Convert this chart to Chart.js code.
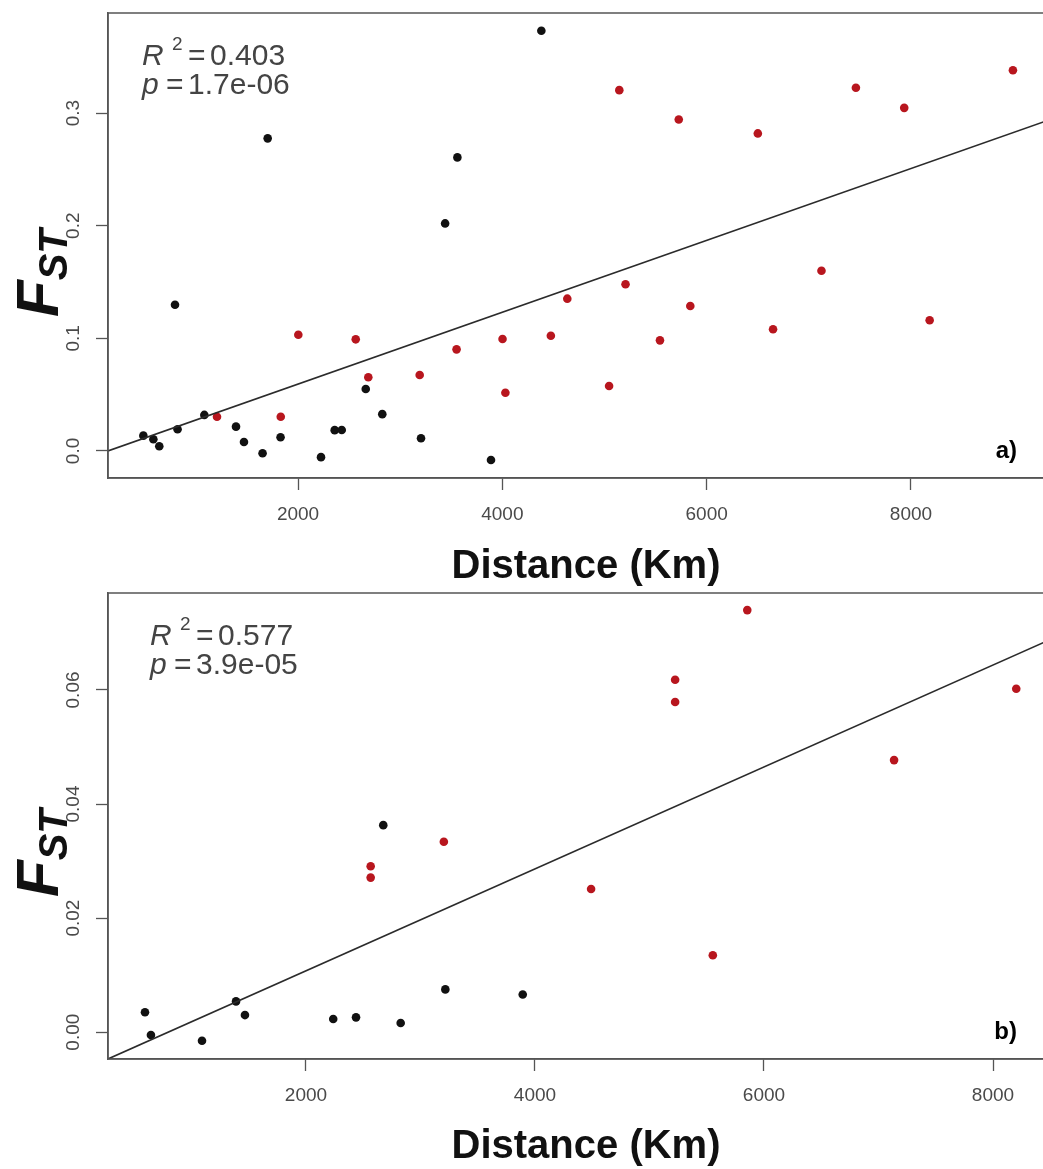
<!DOCTYPE html>
<html>
<head>
<meta charset="utf-8">
<script src="https://cdn.jsdelivr.net/npm/chart.js@4.4.1/dist/chart.umd.min.js"></script>
<style>
  html, body { margin: 0; padding: 0; background: #fff; }
  body { width: 1043px; height: 1169px; overflow: hidden; position: relative; }
  .panel { position: absolute; left: 0; }
  #panelA { top: 0; }
  #panelB { top: 580px; }
</style>
</head>
<body>
<div class="panel" id="panelA"><canvas id="chartA" width="1064" height="590"></canvas></div>
<div class="panel" id="panelB"><canvas id="chartB" width="1064" height="589"></canvas></div>
<script>
// a) all pairs: distance (km) vs Fst
const distBlackA = [486, 584, 642, 796, 821, 1083, 1393, 1471, 1653, 1703, 1829, 2225, 2359, 2428, 2663, 2825, 3204, 3440, 3560, 3889, 4382];
const fstBlackA = [0.0136, 0.0104, 0.0042, 0.1298, 0.0193, 0.0320, 0.0216, 0.0080, -0.0020, 0.2775, 0.0122, -0.0055, 0.0185, 0.0186, 0.0550, 0.0327, 0.0113, 0.2020, 0.2606, -0.0080, 0.3730];
const distRedA = [1207, 1831, 2003, 2565, 2688, 3191, 3552, 4002, 4030, 4475, 4636, 5045, 5145, 5206, 5543, 5727, 5840, 6501, 6650, 7124, 7461, 7934, 8183, 8998];
const fstRedA = [0.0304, 0.0304, 0.1032, 0.0991, 0.0654, 0.0674, 0.0902, 0.0994, 0.0517, 0.1023, 0.1352, 0.0577, 0.3203, 0.1480, 0.0982, 0.2943, 0.1287, 0.2819, 0.1080, 0.1600, 0.3224, 0.3046, 0.1160, 0.3380];
const fitDistA = [140, 9498];
const fitFstA = [0.0, 0.2985];
const statsA = ['0.403', '1.7e-06'];

// b) subset
const distBlackB = [594, 646, 1092, 1389, 1467, 2238, 2437, 2675, 2827, 3217, 3893];
const fstBlackB = [0.0035, -0.0005, -0.0015, 0.0054, 0.0030, 0.0023, 0.0026, 0.0363, 0.0016, 0.0075, 0.0066];
const distRedB = [2565, 2565, 3204, 4490, 5224, 5224, 5553, 5854, 7136, 8203];
const fstRedB = [0.0291, 0.0271, 0.0334, 0.0251, 0.0618, 0.0579, 0.0135, 0.0740, 0.0477, 0.0602];
const fitDistB = [271, 8620];
const fitFstB = [-0.0047, 0.0699];
const statsB = ['0.577', '3.9e-05'];

const distTicks = [2000, 4000, 6000, 8000];
const fstTicksA = [0, 0.1, 0.2, 0.3];
const fstTickLabelsA = ['0.0', '0.1', '0.2', '0.3'];
const fstTicksB = [0, 0.02, 0.04, 0.06];
const fstTickLabelsB = ['0.00', '0.02', '0.04', '0.06'];

const FONT = '"Liberation Sans", Arial, Helvetica, sans-serif';
const RED = '#b8161e';
const BLACK = '#111111';

function pts(xs, ys) {
  return xs.map((x, i) => ({ x: x, y: ys[i] }));
}

// frame, stats text, panel letter and the F_ST axis label
const panelText = {
  id: 'panelText',
  afterDraw(chart, args, opts) {
    const ctx = chart.ctx;
    const a = chart.chartArea;
    ctx.save();
    ctx.strokeStyle = '#555';
    ctx.lineWidth = 1.5;
    ctx.strokeRect(a.left, a.top, a.right - a.left, a.bottom - a.top);

    // R^2 / p
    ctx.fillStyle = '#444';
    ctx.textBaseline = 'alphabetic';
    let x0 = opts.statX;
    ctx.font = 'italic 30px ' + FONT;
    ctx.fillText('R', x0, 65);
    ctx.font = '19px ' + FONT;
    ctx.fillText('2', x0 + 30, 50);
    ctx.font = '30px ' + FONT;
    ctx.fillText('=', x0 + 46, 65);
    ctx.fillText(opts.stats[0], x0 + 68, 65);
    ctx.font = 'italic 30px ' + FONT;
    ctx.fillText('p', x0, 94);
    ctx.font = '30px ' + FONT;
    ctx.fillText('=', x0 + 24, 94);
    ctx.fillText(opts.stats[1], x0 + 46, 94);

    // panel tag
    ctx.fillStyle = '#000';
    ctx.font = 'bold 24px ' + FONT;
    ctx.textAlign = 'right';
    ctx.fillText(opts.tag, a.right - 47, a.bottom - 20);

    // F_ST
    ctx.textAlign = 'left';
    ctx.fillStyle = '#111';
    ctx.translate(58, 317);
    ctx.rotate(-Math.PI / 2);
    ctx.font = 'italic bold 60px ' + FONT;
    ctx.fillText('F', 0, 0);
    const w = ctx.measureText('F').width;
    ctx.font = 'italic bold 40px ' + FONT;
    ctx.fillText('ST', w, 9);
    ctx.restore();
  }
};

function makeChart(id, cfg) {
  return new Chart(document.getElementById(id), {
    type: 'scatter',
    data: {
      datasets: [
        {
          data: pts(cfg.fitX, cfg.fitY),
          showLine: true,
          borderColor: '#2b2b2b',
          borderWidth: 1.6,
          pointRadius: 0
        },
        {
          data: pts(cfg.blackX, cfg.blackY),
          pointRadius: 4.3,
          pointBorderWidth: 0,
          pointBackgroundColor: BLACK
        },
        {
          data: pts(cfg.redX, cfg.redY),
          pointRadius: 4.3,
          pointBorderWidth: 0,
          pointBackgroundColor: RED
        }
      ]
    },
    options: {
      responsive: false,
      animation: false,
      layout: { autoPadding: false, padding: { top: 13, left: 0, right: 0, bottom: 0 } },
      plugins: {
        legend: { display: false },
        tooltip: { enabled: false },
        panelText: { stats: cfg.stats, statX: cfg.statX, tag: cfg.tag }
      },
      scales: {
        x: {
          type: 'linear',
          min: cfg.fitX[0],
          max: cfg.fitX[1],
          afterBuildTicks: s => { s.ticks = distTicks.map(v => ({ value: v })); },
          afterFit: s => { s.height = cfg.xAxisHeight; s.paddingLeft = 0; s.paddingRight = 0; },
          grid: { display: true, drawOnChartArea: false, drawTicks: true, tickLength: 12, tickColor: '#555', tickWidth: 1.3 },
          border: { display: true, color: '#555', width: 1.5 },
          ticks: {
            color: '#4a4a4a',
            font: { family: FONT, size: 19 },
            padding: 13,
            minRotation: 0,
            maxRotation: 0,
            autoSkip: false,
            callback: v => String(v)
          },
          title: {
            display: true,
            text: 'Distance (Km)',
            color: '#111',
            font: { family: FONT, size: 40, weight: 'bold', lineHeight: 1 },
            padding: { top: 0, bottom: cfg.titlePad }
          }
        },
        y: {
          type: 'linear',
          min: cfg.yMin,
          max: cfg.yMax,
          afterBuildTicks: s => { s.ticks = cfg.yTicks.map(v => ({ value: v })); },
          afterFit: s => { s.width = 108; s.paddingTop = 0; s.paddingBottom = 0; },
          grid: { display: true, drawOnChartArea: false, drawTicks: true, tickLength: 12, tickColor: '#555', tickWidth: 1.3 },
          border: { display: true, color: '#555', width: 1.5 },
          ticks: {
            color: '#4a4a4a',
            font: { family: FONT, size: 19 },
            padding: cfg.yTickPad,
            minRotation: 90,
            maxRotation: 90,
            crossAlign: 'center',
            autoSkip: false,
            callback: v => cfg.yLabels[cfg.yTicks.indexOf(v)]
          }
        }
      }
    },
    plugins: [panelText]
  });
}

makeChart('chartA', {
  blackX: distBlackA, blackY: fstBlackA, redX: distRedA, redY: fstRedA,
  fitX: fitDistA, fitY: fitFstA, stats: statsA, statX: 142, tag: 'a)',
  yMin: -0.024, yMax: 0.3888, yTicks: fstTicksA, yLabels: fstTickLabelsA,
  xAxisHeight: 112, titlePad: 3.5, yTickPad: 9
});

makeChart('chartB', {
  blackX: distBlackB, blackY: fstBlackB, redX: distRedB, redY: fstRedB,
  fitX: fitDistB, fitY: fitFstB, stats: statsB, statX: 150, tag: 'b)',
  yMin: -0.0047, yMax: 0.0770, yTicks: fstTicksB, yLabels: fstTickLabelsB,
  xAxisHeight: 110, titlePad: 2.5, yTickPad: 4
});
</script>
</body>
</html>
